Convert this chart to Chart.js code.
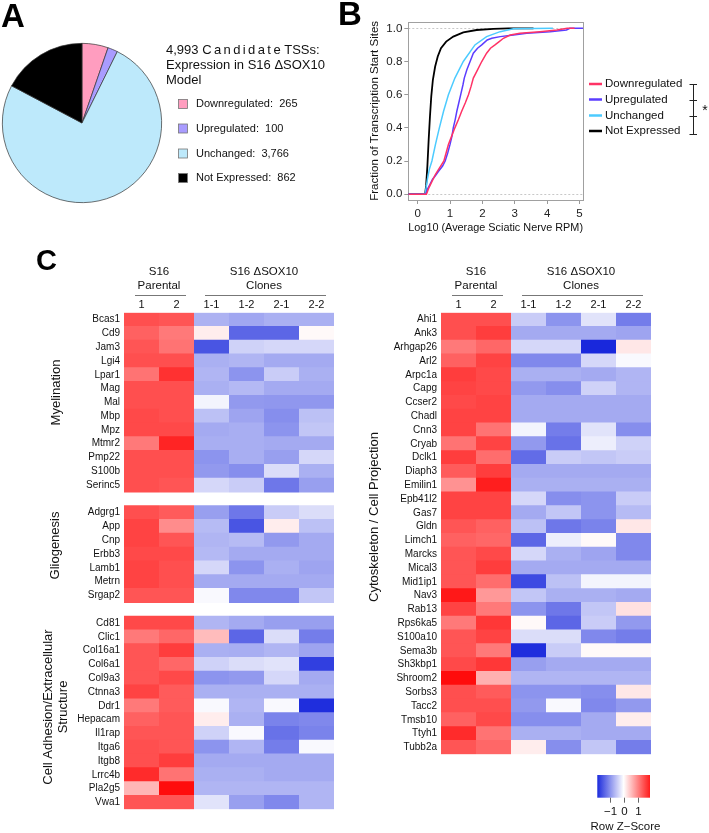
<!DOCTYPE html>
<html><head><meta charset="utf-8">
<script src="https://cdn.jsdelivr.net/npm/chart.js@4"></script>
<style>
html,body{margin:0;padding:0;background:#fff;}
#wrap{position:relative;width:709px;height:833px;overflow:hidden;font-family:'Liberation Sans',Arial,Helvetica,sans-serif;}
canvas{position:absolute;}
.lab{position:absolute;font-weight:bold;color:#000;line-height:1;}
</style></head><body>
<div id="wrap">
<canvas id="pie" width="340" height="225" style="left:0;top:0"></canvas>
<canvas id="ecdf" width="369" height="240" style="left:340px;top:0"></canvas>
<canvas id="hmL" width="340" height="593" style="left:0;top:240px"></canvas>
<canvas id="hmR" width="369" height="593" style="left:340px;top:240px"></canvas>
<div class="lab" style="left:1px;top:-1px;font-size:33px">A</div>
<div class="lab" style="left:338px;top:-3px;font-size:33px">B</div>
<div class="lab" style="left:36px;top:246px;font-size:29px">C</div>
</div>
<script>
// ---------- Panel A data ----------
const pieLabels = ['Downregulated', 'Upregulated', 'Unchanged', 'Not Expressed'];
const pieCounts = [265, 100, 3766, 862];
const pieColors = ['#FF9DBF', '#A99CFF', '#BDE9FB', '#000000'];

// ---------- Panel B data (ECDF) ----------
const ecdfSeries = ['Downregulated', 'Upregulated', 'Unchanged', 'Not Expressed'];
const ecdfColors = ['#FF3366', '#5B3DFF', '#4CCBFF', '#000000'];
const downX = [-0.29, 0.27, 0.35, 0.45, 0.55, 0.68, 0.81, 0.95, 1.05, 1.15, 1.26, 1.36, 1.47, 1.57, 1.65, 1.72, 1.85, 1.98, 2.13, 2.25, 2.39, 2.52, 2.65, 2.86, 3.16, 3.78, 4.30, 4.62, 4.85];
const downY = [0, 0, 0.04, 0.08, 0.12, 0.16, 0.20, 0.30, 0.35, 0.40, 0.45, 0.50, 0.55, 0.60, 0.65, 0.70, 0.75, 0.80, 0.85, 0.88, 0.90, 0.92, 0.94, 0.96, 0.97, 0.98, 0.99, 1.0, 1.0];
const upX = [-0.29, 0.25, 0.30, 0.38, 0.46, 0.54, 0.65, 0.77, 0.85, 0.93, 1.00, 1.06, 1.10, 1.16, 1.21, 1.27, 1.33, 1.40, 1.44, 1.52, 1.62, 1.72, 1.85, 1.98, 2.15, 2.29, 2.55, 2.96, 3.37, 4.09, 4.60, 4.70, 5.11];
const upY = [0, 0, 0.03, 0.06, 0.09, 0.11, 0.14, 0.17, 0.20, 0.25, 0.30, 0.35, 0.40, 0.45, 0.50, 0.55, 0.60, 0.66, 0.70, 0.75, 0.80, 0.85, 0.88, 0.90, 0.93, 0.94, 0.95, 0.96, 0.97, 0.98, 0.99, 1.0, 1.0];
const unchX = [-0.29, 0.23, 0.30, 0.36, 0.44, 0.55, 0.67, 0.80, 0.95, 1.15, 1.41, 1.77, 2.13, 2.55, 2.96, 4.18];
const unchY = [0, 0, 0.09, 0.15, 0.20, 0.30, 0.40, 0.50, 0.60, 0.70, 0.80, 0.90, 0.95, 0.98, 0.997, 1.0];
const notX = [-0.29, 0.23, 0.26, 0.30, 0.34, 0.38, 0.42, 0.47, 0.54, 0.62, 0.72, 0.88, 1.10, 1.41, 1.82, 2.34, 2.80, 3.58];
const notY = [0, 0, 0.05, 0.17, 0.33, 0.47, 0.59, 0.69, 0.77, 0.83, 0.88, 0.92, 0.95, 0.976, 0.99, 0.997, 1.0, 1.0];
const ecdfXTicks = [0, 1, 2, 3, 4, 5];
const ecdfYTicks = [0, 0.2, 0.4, 0.6, 0.8, 1.0];

// ---------- Panel C data (row z-scores) ----------
const colLabels = ['1', '2', '1-1', '1-2', '2-1', '2-2'];
const myelinGenes = ['Bcas1','Cd9','Jam3','Lgi4','Lpar1','Mag','Mal','Mbp','Mpz','Mtmr2','Pmp22','S100b','Serinc5'];
const myelinZ = [
 [1.45,1.40,-0.68,-0.78,-0.70,-0.70],
 [1.30,1.10,0.15,-1.35,-1.35,0.05],
 [1.40,1.15,-1.50,-0.40,-0.35,-0.35],
 [1.45,1.45,-0.70,-0.65,-0.75,-0.75],
 [1.15,1.70,-0.65,-0.95,-0.45,-0.70],
 [1.45,1.45,-0.70,-0.62,-0.75,-0.75],
 [1.45,1.45,-0.10,-0.90,-0.92,-0.92],
 [1.50,1.45,-0.55,-0.80,-1.00,-0.55],
 [1.50,1.50,-0.75,-0.72,-0.95,-0.50],
 [1.10,1.80,-0.72,-0.72,-0.75,-0.75],
 [1.45,1.45,-0.95,-0.72,-0.85,-0.35],
 [1.45,1.45,-0.90,-1.00,-0.30,-0.70],
 [1.45,1.40,-0.35,-0.45,-1.20,-0.85]
];
const glioGenes = ['Adgrg1','App','Cnp','Erbb3','Lamb1','Metrn','Srgap2'];
const glioZ = [
 [1.45,1.35,-0.85,-1.20,-0.45,-0.30],
 [1.55,0.95,-0.60,-1.50,0.15,-0.55],
 [1.55,1.40,-0.65,-0.60,-0.90,-0.75],
 [1.50,1.50,-0.62,-0.75,-0.75,-0.75],
 [1.55,1.45,-0.35,-0.95,-0.70,-0.80],
 [1.55,1.45,-0.75,-0.75,-0.75,-0.75],
 [1.40,1.40,-0.05,-1.05,-1.05,-0.50]
];
const adhesionGenes = ['Cd81','Clic1','Col16a1','Col6a1','Col9a3','Ctnna3','Ddr1','Hepacam','Il1rap','Itga6','Itgb8','Lrrc4b','Pla2g5','Vwa1'];
const adhesionZ = [
 [1.50,1.50,-0.65,-0.75,-0.85,-0.85],
 [1.10,1.25,0.55,-1.35,-0.30,-1.15],
 [1.40,1.60,-0.70,-0.72,-0.65,-0.80],
 [1.40,1.25,-0.40,-0.30,-0.25,-1.70],
 [1.40,1.50,-0.95,-0.90,-0.35,-0.75],
 [1.55,1.35,-0.70,-0.70,-0.70,-0.70],
 [1.10,1.35,-0.05,-0.65,-0.05,-1.85],
 [1.30,1.40,0.15,-0.70,-1.10,-1.05],
 [1.40,1.40,-0.40,-0.05,-1.25,-1.10],
 [1.45,1.40,-0.95,-0.65,-1.15,-0.05],
 [1.45,1.60,-0.75,-0.75,-0.75,-0.75],
 [1.75,1.15,-0.70,-0.70,-0.75,-0.75],
 [0.60,2.00,-0.65,-0.65,-0.65,-0.65],
 [1.40,1.40,-0.25,-0.85,-1.05,-0.65]
];
const cytoGenes = ['Ahi1','Ank3','Arhgap26','Arl2','Arpc1a','Capg','Ccser2','Chadl','Cnn3','Cryab','Dclk1','Diaph3','Emilin1','Epb41l2','Gas7','Gldn','Limch1','Marcks','Mical3','Mid1ip1','Nav3','Rab13','Rps6ka5','S100a10','Sema3b','Sh3kbp1','Shroom2','Sorbs3','Tacc2','Tmsb10','Ttyh1','Tubb2a'];
const cytoZ = [
 [1.45,1.45,-0.45,-0.95,-0.25,-1.15],
 [1.45,1.60,-0.75,-0.75,-0.75,-0.80],
 [1.10,1.25,-0.35,-0.35,-1.90,0.20],
 [1.30,1.55,-1.05,-1.05,-0.35,-0.05],
 [1.60,1.50,-0.70,-0.70,-0.75,-0.65],
 [1.55,1.50,-0.90,-1.00,-0.40,-0.65],
 [1.50,1.55,-0.75,-0.75,-0.75,-0.75],
 [1.55,1.55,-0.75,-0.75,-0.75,-0.75],
 [1.55,1.15,-0.10,-1.15,-0.25,-1.00],
 [1.15,1.55,-0.90,-1.25,-0.15,-0.40],
 [1.60,1.20,-1.30,-0.45,-0.50,-0.45],
 [1.35,1.60,-0.75,-0.75,-0.75,-0.75],
 [0.90,1.85,-0.70,-0.70,-0.70,-0.70],
 [1.55,1.55,-0.35,-1.00,-0.95,-0.45],
 [1.55,1.55,-0.75,-0.50,-0.95,-0.60],
 [1.40,1.30,-0.55,-1.20,-1.10,0.20],
 [1.30,1.25,-1.35,-0.15,0.05,-1.05],
 [1.40,1.50,-0.35,-0.70,-0.80,-1.05],
 [1.40,1.60,-0.75,-0.75,-0.75,-0.75],
 [1.40,1.20,-1.60,-0.55,-0.10,-0.10],
 [1.90,0.85,-0.50,-0.70,-0.70,-0.75],
 [1.55,1.10,-0.95,-1.20,-0.50,0.25],
 [1.10,1.65,0.05,-1.35,-0.45,-0.90],
 [1.40,1.55,-0.30,-0.30,-1.05,-1.15],
 [1.40,1.10,-1.85,-0.45,0.05,0.05],
 [1.50,1.65,-0.85,-0.75,-0.75,-0.75],
 [2.00,0.65,-0.65,-0.65,-0.65,-0.65],
 [1.45,1.35,-0.95,-0.95,-1.00,0.20],
 [1.45,1.45,-0.90,-0.05,-1.05,-0.90],
 [1.30,1.50,-1.00,-1.00,-0.75,0.15],
 [1.75,1.15,-0.70,-0.70,-0.75,-0.75],
 [1.40,1.25,0.15,-1.00,-0.50,-1.15]
];
const keyTicks = [-1, 0, 1];

// ---------- helpers ----------
const FONT = "'Liberation Sans', Arial, Helvetica, sans-serif";
Chart.defaults.font.family = FONT;
Chart.defaults.color = '#111';
const RED_MAX = 2.1, BLUE_MAX = 1.9;
const BLUE_END = [25, 40, 220];
function zColor(z) {
  if (z >= 0) {
    const t = Math.min(1, z / RED_MAX);
    const v = Math.round(255 * (1 - t)); return `rgb(255,${v},${v})`;
  }
  const t = Math.min(1, -z / BLUE_MAX);
  const c = BLUE_END.map(e => Math.round(255 + (e - 255) * t));
  return `rgb(${c[0]},${c[1]},${c[2]})`;
}
function spacedText(ctx, s, x, y, sp) {
  for (const ch of s) { ctx.fillText(ch, x, y); x += ctx.measureText(ch).width + sp; }
  return x;
}

// ---------- Panel A ----------
const pieDeco = {
  id: 'pieDeco',
  afterDraw(chart) {
    const ctx = chart.ctx;
    ctx.save();
    ctx.fillStyle = '#111'; ctx.textBaseline = 'middle'; ctx.textAlign = 'left';
    ctx.font = `13px ${FONT}`;
    const total = pieCounts.reduce((a, b) => a + b, 0).toLocaleString('en-US');
    let x = spacedText(ctx, total + ' ', 166, 50, 0);
    x = spacedText(ctx, 'Candidate', x, 50, 2.4);
    spacedText(ctx, ' TSSs:', x - 2.4, 50, 0);
    ctx.fillText('Expression in S16 \u0394SOX10', 166, 65);
    ctx.fillText('Model', 166, 80);
    const rows = [104, 128.5, 153.5, 178];
    ctx.font = `11px ${FONT}`;
    pieLabels.forEach((lab, i) => {
      ctx.fillStyle = pieColors[i];
      ctx.fillRect(178.5, rows[i] - 4.5, 9, 9);
      ctx.strokeStyle = '#777'; ctx.lineWidth = 0.8;
      ctx.strokeRect(178.5, rows[i] - 4.5, 9, 9);
      ctx.fillStyle = '#111';
      ctx.fillText(`${lab}:  ${pieCounts[i].toLocaleString('en-US')}`, 196, rows[i]);
    });
    ctx.restore();
  }
};
new Chart(document.getElementById('pie'), {
  type: 'pie',
  data: { labels: pieLabels, datasets: [{ data: pieCounts, backgroundColor: pieColors, borderColor: '#333', borderWidth: 0.7 }] },
  options: {
    responsive: false, animation: false, devicePixelRatio: 1, events: [],
    layout: { padding: { left: 2, top: 43, right: 178, bottom: 22 } },
    plugins: { legend: { display: false }, tooltip: { enabled: false } }
  },
  plugins: [pieDeco]
});

// ---------- Panel B ----------
const ecdfXs = [downX, upX, unchX, notX];
const ecdfYs = [downY, upY, unchY, notY];
const ecdfDeco = {
  id: 'ecdfDeco',
  beforeDatasetsDraw(chart) {
    const { ctx, chartArea: a, scales: { y } } = chart;
    ctx.save();
    ctx.strokeStyle = '#c8c8c8'; ctx.lineWidth = 1; ctx.setLineDash([2, 2]);
    [0, 1].forEach(v => {
      const py = Math.round(y.getPixelForValue(v)) + 0.5;
      ctx.beginPath(); ctx.moveTo(a.left, py); ctx.lineTo(a.right, py); ctx.stroke();
    });
    ctx.setLineDash([]);
    ctx.strokeStyle = '#a0a0a0';
    ctx.strokeRect(Math.round(a.left) + 0.5, Math.round(a.top) + 0.5, Math.round(a.right - a.left), Math.round(a.bottom - a.top));
    ctx.restore();
  },
  afterDraw(chart) {
    const ctx = chart.ctx;
    ctx.save();
    ctx.font = `11.5px ${FONT}`; ctx.textBaseline = 'middle'; ctx.textAlign = 'left';
    const rows = [84, 99.5, 115.5, 131];
    ecdfSeries.forEach((s, i) => {
      ctx.strokeStyle = ecdfColors[i]; ctx.lineWidth = 2.5;
      ctx.beginPath(); ctx.moveTo(249, rows[i]); ctx.lineTo(262, rows[i]); ctx.stroke();
      ctx.fillStyle = '#111'; ctx.fillText(s, 265, rows[i]);
    });
    ctx.strokeStyle = '#222'; ctx.lineWidth = 1;
    ctx.beginPath(); ctx.moveTo(353.5, 84); ctx.lineTo(353.5, 134); ctx.stroke();
    [84, 100, 116, 134].forEach(yy => { ctx.beginPath(); ctx.moveTo(349.5, yy + 0.5); ctx.lineTo(357, yy + 0.5); ctx.stroke(); });
    ctx.font = `14px ${FONT}`; ctx.textAlign = 'center'; ctx.fillStyle = '#111';
    ctx.fillText('*', 365, 111);
    ctx.restore();
  }
};
new Chart(document.getElementById('ecdf'), {
  type: 'scatter',
  data: {
    datasets: ecdfSeries.map((name, i) => ({
      label: name,
      data: ecdfXs[i].map((x, j) => ({ x, y: ecdfYs[i][j] })),
      showLine: true, borderColor: ecdfColors[i], backgroundColor: ecdfColors[i],
      borderWidth: i === 3 ? 1.8 : 1.5, pointRadius: 0, tension: 0
    }))
  },
  options: {
    responsive: false, animation: false, devicePixelRatio: 1, events: [],
    layout: { padding: { top: 21.7, right: 126, left: 0, bottom: 0 } },
    plugins: { legend: { display: false }, tooltip: { enabled: false } },
    scales: {
      x: {
        type: 'linear', min: -0.29, max: 5.11,
        afterBuildTicks: s => { s.ticks = ecdfXTicks.map(v => ({ value: v })); },
        afterFit: s => { s.height = 40; },
        grid: { drawOnChartArea: false, drawTicks: true, tickLength: 4, color: '#999' },
        border: { display: false },
        ticks: { padding: 3, font: { size: 11.5 }, color: '#222', maxRotation: 0, callback: v => String(v) },
        title: { display: true, text: 'Log10 (Average Sciatic Nerve RPM)', font: { size: 11.5 }, color: '#111', padding: { top: 0, bottom: 5 } }
      },
      y: {
        type: 'linear', min: -0.035, max: 1.04,
        afterBuildTicks: s => { s.ticks = ecdfYTicks.map(v => ({ value: v })); },
        afterFit: s => { s.width = 68.3; },
        grid: { drawOnChartArea: false, drawTicks: true, tickLength: 4, color: '#999' },
        border: { display: false },
        ticks: { padding: 2, font: { size: 11.5 }, color: '#222', callback: v => v.toFixed(1) },
        title: { display: true, text: 'Fraction of Transcription Start Sites', font: { size: 11.5 }, color: '#111', padding: { top: 28, bottom: 0 } }
      }
    }
  },
  plugins: [ecdfDeco]
});

// ---------- Panel C ----------
function headerPlugin(sideLabels, withKey) {
  return {
    id: 'hmDeco',
    afterDraw(chart) {
      const { ctx, scales: { x } } = chart;
      ctx.save();
      ctx.fillStyle = '#111'; ctx.textAlign = 'center'; ctx.textBaseline = 'middle';
      ctx.font = `11.5px ${FONT}`;
      const groups = [{ from: 0, to: 2, lines: ['S16', 'Parental'] }, { from: 2, to: 6, lines: ['S16 \u0394SOX10', 'Clones'] }];
      groups.forEach(g => {
        const x0 = x.getPixelForValue(g.from), x1 = x.getPixelForValue(g.to);
        const cx = (x0 + x1) / 2;
        ctx.fillText(g.lines[0], cx, 32.3);
        ctx.fillText(g.lines[1], cx, 45.7);
        ctx.strokeStyle = '#777'; ctx.lineWidth = 1;
        ctx.beginPath(); ctx.moveTo(x0 + 11, 55.5); ctx.lineTo(x1 - 8, 55.5); ctx.stroke();
      });
      ctx.font = `13px ${FONT}`;
      sideLabels.forEach(l => {
        ctx.save(); ctx.translate(l.x, l.y); ctx.rotate(-Math.PI / 2);
        ctx.fillText(l.text, 0, 0); ctx.restore();
      });
      if (withKey) {
        const kx0 = 257.3, kx1 = 310, ky0 = 535, ky1 = 557.7, zr = 1.88;
        const grad = ctx.createLinearGradient(kx0, 0, kx1, 0);
        for (let k = 0; k <= 20; k++) { const z = -zr + (2 * zr) * k / 20; grad.addColorStop(k / 20, zColor(z)); }
        ctx.fillStyle = grad; ctx.fillRect(kx0, ky0, kx1 - kx0, ky1 - ky0);
        ctx.strokeStyle = '#666'; ctx.lineWidth = 1;
        ctx.font = `11.5px ${FONT}`; ctx.fillStyle = '#111';
        keyTicks.forEach(t => {
          const px = Math.round(kx0 + (t + zr) / (2 * zr) * (kx1 - kx0)) + 0.5;
          ctx.beginPath(); ctx.moveTo(px, ky1); ctx.lineTo(px, ky1 + 5); ctx.stroke();
          ctx.fillText(t < 0 ? '\u2212' + Math.abs(t) : String(t), px, 571.7);
        });
        ctx.fillText('Row Z\u2212Score', 285.5, 586.7);
      }
      ctx.restore();
    }
  };
}
function heatmap(id, labels, rows, o) {
  const datasets = colLabels.map((c, ci) => ({
    label: c,
    data: rows.map(r => (r ? 1 : null)),
    backgroundColor: rows.map(r => (r ? zColor(r[ci]) : 'rgba(0,0,0,0)')),
    borderWidth: 0, barPercentage: 1.08, categoryPercentage: 1
  }));
  return new Chart(document.getElementById(id), {
    type: 'bar',
    data: { labels, datasets },
    options: {
      indexAxis: 'y', responsive: false, animation: false, devicePixelRatio: 1, events: [],
      layout: { padding: { top: 0, left: 0, right: o.padRight, bottom: o.padBottom } },
      plugins: { legend: { display: false }, tooltip: { enabled: false } },
      scales: {
        x: {
          type: 'linear', position: 'top', stacked: true, min: 0, max: 6,
          grid: { display: false, drawTicks: false }, border: { display: false },
          afterBuildTicks: s => { s.ticks = colLabels.map((_, i) => ({ value: i + 0.5 })); },
          afterFit: s => { s.height = 72.7; },
          ticks: { autoSkip: false, maxRotation: 0, padding: 1, font: { size: 11 }, color: '#111', callback: (v, i) => colLabels[i] }
        },
        y: {
          type: 'category', stacked: true,
          grid: { display: false, drawTicks: false }, border: { display: false },
          afterFit: s => { s.width = o.axisWidth; },
          ticks: { autoSkip: false, padding: 4, font: { size: 10 }, color: '#111' }
        }
      }
    },
    plugins: [headerPlugin(o.side, o.key)]
  });
}
const leftLabels = [...myelinGenes, '', ...glioGenes, '', ...adhesionGenes];
const leftRows = [...myelinZ, null, ...glioZ, null, ...adhesionZ];
heatmap('hmL', leftLabels, leftRows, {
  padRight: 6, padBottom: 23.7, axisWidth: 124, key: false,
  side: [
    { text: 'Myelination', x: 56, y: 152.5 },
    { text: 'Gliogenesis', x: 55, y: 305.5 },
    { text: 'Cell Adhesion/Extracellular', x: 48.5, y: 467 },
    { text: 'Structure', x: 63, y: 467 }
  ]
});
heatmap('hmR', cytoGenes, cytoZ, {
  padRight: 58, padBottom: 78.7, axisWidth: 101, key: true,
  side: [{ text: 'Cytoskeleton / Cell Projection', x: 34, y: 277 }]
});
</script>
</body></html>
